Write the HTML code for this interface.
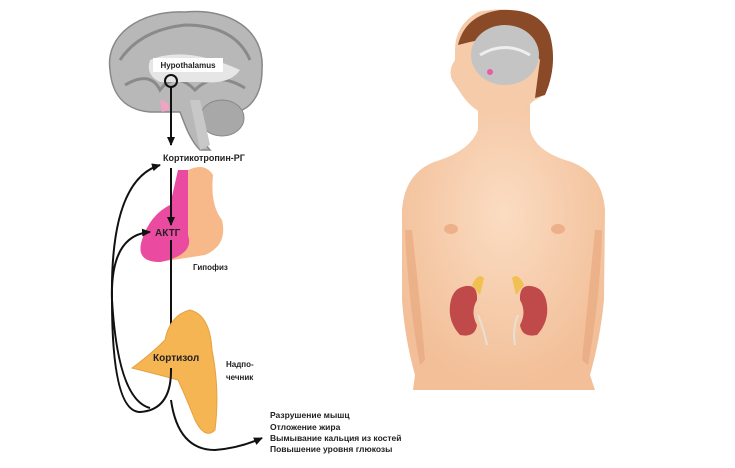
<!DOCTYPE html>
<html><head><meta charset="utf-8"><style>
html,body{margin:0;padding:0;background:#fff;width:735px;height:468px;overflow:hidden}
svg{display:block}
text{font-family:"Liberation Sans","DejaVu Sans",sans-serif;font-weight:bold;fill:#222}
</style></head><body>
<svg width="735" height="468" viewBox="0 0 735 468">
<defs>
<radialGradient id="skin" cx="50%" cy="40%" r="60%"><stop offset="0" stop-color="#fbdcc2"/><stop offset="1" stop-color="#f2bf98"/></radialGradient>
<marker id="ah" markerWidth="10" markerHeight="10" refX="8" refY="5" orient="auto" markerUnits="userSpaceOnUse"><path d="M0,1 L9,5 L0,9 z" fill="#111"/></marker>
</defs>
<path d="M110,70 C105,35 140,10 185,12 C230,8 265,30 262,70 C262,95 250,110 235,112 L215,112 C205,125 200,140 210,150 L200,150 C190,140 185,125 180,112 L150,112 C125,110 112,95 110,70 z" fill="#b8b8b8" stroke="#888" stroke-width="1.5"/>
<path d="M120,60 Q140,30 185,25 Q235,25 250,60" fill="none" stroke="#8a8a8a" stroke-width="3"/>
<path d="M125,85 Q150,70 160,90 Q175,70 195,90 Q215,70 245,88" fill="none" stroke="#8a8a8a" stroke-width="3"/>
<path d="M150,60 Q185,45 240,70 Q230,85 200,82 L160,82 Q145,75 150,60 z" fill="#e6e6e6"/>
<ellipse cx="222" cy="118" rx="22" ry="18" fill="#a8a8a8" stroke="#888"/>
<path d="M200,100 L210,145 L200,150 L190,100 z" fill="#c8c8c8"/>
<path d="M160,100 L167,102 L170,110 L162,112 z" fill="#f0a4c4"/>
<rect x="153" y="58" width="70" height="14" fill="#fff"/>
<text x="188" y="68" font-size="8" text-anchor="middle">Hypothalamus</text>
<circle cx="171" cy="81" r="6" fill="none" stroke="#111" stroke-width="2"/>
<line x1="171" y1="87" x2="171" y2="145" stroke="#111" stroke-width="2" marker-end="url(#ah)"/>
<text x="163" y="161" font-size="9">Кортикотропин-РГ</text>
<path d="M188,170 Q205,162 213,175 Q210,205 222,220 Q228,245 205,255 L160,262 Q135,262 142,240 Q150,215 170,205 Q180,190 188,170 z" fill="#f7b98a"/>
<path d="M178,170 L188,170 L188,235 Q195,255 160,262 Q135,262 142,240 Q150,215 170,205 z" fill="#ea4aa0"/>
<text x="155" y="236" font-size="10">АКТГ</text>
<text x="193" y="270" font-size="8">Гипофиз</text>
<line x1="171" y1="168" x2="171" y2="225" stroke="#111" stroke-width="2" marker-end="url(#ah)"/>
<line x1="171" y1="240" x2="171" y2="350" stroke="#111" stroke-width="2" marker-end="url(#ah)"/>
<path d="M190,310 Q210,315 212,350 Q220,390 215,430 Q205,440 195,420 Q185,395 178,380 Q160,375 132,368 Q150,355 165,340 Q170,315 190,310 z" fill="#f5b552" stroke="#e8a040" stroke-width="1"/>
<text x="153" y="361" font-size="10">Кортизол</text>
<text x="226" y="367" font-size="8">Надпо-</text>
<text x="226" y="380" font-size="8">чечник</text>
<path d="M171,368 Q172,410 140,412 Q112,412 112,300 Q110,180 160,165" fill="none" stroke="#111" stroke-width="2" marker-end="url(#ah)"/>
<path d="M150,408 Q118,400 112,300 Q110,235 150,232" fill="none" stroke="#111" stroke-width="2" marker-end="url(#ah)"/>
<path d="M171,400 Q178,450 215,450 Q240,448 262,438" fill="none" stroke="#111" stroke-width="2" marker-end="url(#ah)"/>
<text x="270" y="418" font-size="8.5">Разрушение мышц</text>
<text x="270" y="430" font-size="8.5">Отложение жира</text>
<text x="270" y="441" font-size="8.5">Вымывание кальция из костей</text>
<text x="270" y="452" font-size="8.5">Повышение уровня глюкозы</text>
<path d="M478,95 L478,130 Q470,150 440,160 Q405,170 402,210 L402,300 Q405,340 415,375 L413,390 L595,390 L590,375 Q600,340 604,300 L605,210 Q602,170 565,160 Q535,150 530,130 L530,95 z" fill="url(#skin)"/>
<path d="M412,230 Q420,300 425,360 L420,365 Q408,300 405,230 z" fill="#e6a57c" opacity=".6"/>
<path d="M595,230 Q588,300 582,360 L588,365 Q600,300 602,230 z" fill="#e6a57c" opacity=".6"/>
<path d="M455,50 Q455,25 478,12 Q510,5 535,18 Q555,40 550,80 Q548,95 535,100 L525,108 Q505,118 480,112 Q468,105 460,92 L452,80 Q448,70 455,60 z" fill="#f5cba9"/>
<path d="M458,45 Q465,15 500,10 Q540,8 550,35 Q558,65 545,95 L535,98 L540,60 Q520,30 470,42 z" fill="#8a4a28"/>
<ellipse cx="505" cy="55" rx="34" ry="30" fill="#c4c4c4"/>
<path d="M480,55 Q505,40 530,55" fill="none" stroke="#eee" stroke-width="3"/>
<circle cx="490" cy="72" r="3" fill="#ee5aa0"/>
<ellipse cx="451" cy="229" rx="7" ry="5" fill="#eeb08a"/>
<ellipse cx="558" cy="229" rx="7" ry="5" fill="#eeb08a"/>
<path d="M462,287 Q478,282 477,300 Q470,312 477,325 Q475,338 460,335 Q448,322 450,305 Q452,290 462,287 z" fill="#c04a4a"/>
<path d="M535,287 Q519,282 520,300 Q527,312 520,325 Q522,338 537,335 Q549,322 547,305 Q545,290 535,287 z" fill="#c04a4a"/>
<path d="M472,285 Q478,272 484,278 L480,295 z" fill="#f0c050"/>
<path d="M524,285 Q518,272 512,278 L516,295 z" fill="#f0c050"/>
<path d="M478,315 Q484,330 487,345" fill="none" stroke="#e8e0d6" stroke-width="2"/>
<path d="M518,315 Q512,330 515,345" fill="none" stroke="#e8e0d6" stroke-width="2"/>
</svg>
</body></html>
